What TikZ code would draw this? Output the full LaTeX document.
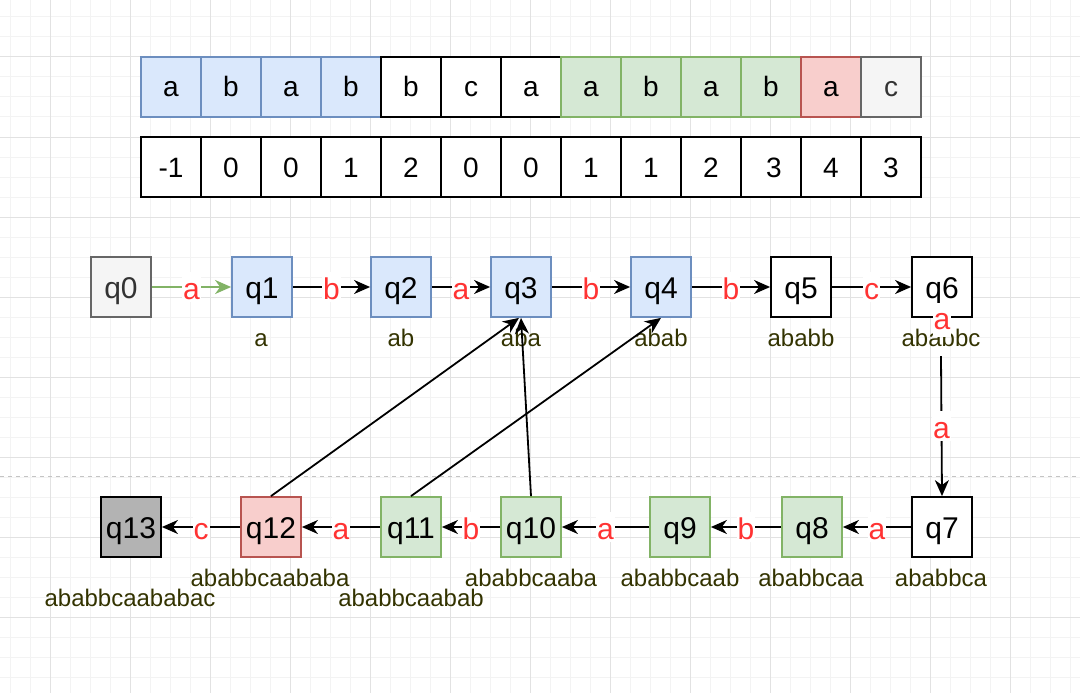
\documentclass[tikz,border=0pt]{standalone}
\usepackage{fontspec}
\setmainfont{Liberation Sans}
\usetikzlibrary{arrows.meta}
\definecolor{bfill}{HTML}{DAE8FC}\definecolor{bline}{HTML}{6C8EBF}
\definecolor{gfill}{HTML}{D5E8D4}\definecolor{gline}{HTML}{82B366}
\definecolor{rfill}{HTML}{F8CECC}\definecolor{rline}{HTML}{B85450}
\definecolor{nfill}{HTML}{F5F5F5}\definecolor{nline}{HTML}{666666}
\definecolor{dfill}{HTML}{B3B3B3}
\definecolor{elred}{HTML}{FF3333}
\definecolor{subc}{HTML}{333300}
\definecolor{minorg}{HTML}{F3F3F3}
\definecolor{majorg}{HTML}{E2E2E2}
\definecolor{dashg}{HTML}{C4C4C4}
\tikzset{
  cell/.style={draw=black, fill=white, line width=1.8pt, minimum width=60pt, minimum height=60pt, inner sep=0pt, text height=20pt, text depth=0pt, font=\fontsize{28}{30}\selectfont},
  bluec/.style={fill=bfill, draw=bline},
  greenc/.style={fill=gfill, draw=gline},
  redc/.style={fill=rfill, draw=rline},
  greyc/.style={fill=nfill, draw=nline, text=black!80},
  state/.style={draw=black, fill=white, line width=1.8pt, minimum width=60pt, minimum height=60pt, inner sep=0pt, text height=22pt, text depth=0pt, font=\fontsize{30}{32}\selectfont},
  darkc/.style={fill=dfill, draw=black},
  edge/.style={line width=1.8pt, draw=black, -{Stealth[length=16pt,width=14pt,inset=5pt]}},
  gedge/.style={line width=1.8pt, draw=gline, -{Stealth[length=16pt,width=14pt,inset=5pt]}},
  elab/.style={fill=white, text=elred, inner sep=1pt, text height=26pt, text depth=2pt, font=\fontsize{30}{32}\selectfont},
  strayl/.style={fill=white, text=elred, inner sep=1pt, text height=25pt, text depth=7pt, font=\fontsize{30}{32}\selectfont},
  sublab/.style={text=subc, inner sep=1pt, text height=17pt, text depth=0pt, font=\fontsize{24}{26}\selectfont},
  minorline/.style={draw=minorg, line width=1pt},
  majorline/.style={draw=majorg, line width=1pt},
  sepline/.style={draw=dashg, line width=1pt, dash pattern=on 4pt off 4pt}
}
\begin{document}
\begin{tikzpicture}[x=1pt,y=-1pt]
\useasboundingbox (0,0) rectangle (1080,693);
\fill[white] (0,0) rectangle (1080,693);
% grid
\foreach \x in {10,30,...,1070} \draw[minorline] (\x,0) -- (\x,693);
\foreach \y in {17,37,...,677} \draw[minorline] (0,\y) -- (1080,\y);
\foreach \x in {50,130,...,1010} \draw[majorline] (\x,0) -- (\x,693);
\foreach \y in {57,137,...,617} \draw[majorline] (0,\y) -- (1080,\y);
\coordinate (sepL) at (0,476);
\coordinate (sepR) at (1080,476);
\draw[sepline] (sepL) -- (sepR);
% text array
\node[cell,bluec] (t0) at (171,87) {a};
\node[cell,bluec] (t1) at (231,87) {b};
\node[cell,bluec] (t2) at (291,87) {a};
\node[cell,bluec] (t3) at (351,87) {b};
\node[cell] (t4) at (411,87) {b};
\node[cell] (t5) at (471,87) {c};
\node[cell] (t6) at (531,87) {a};
\node[cell,greenc] (t7) at (591,87) {a};
\node[cell,greenc] (t8) at (651,87) {b};
\node[cell,greenc] (t9) at (711,87) {a};
\node[cell,greenc] (t10) at (771,87) {b};
\node[cell,redc] (t11) at (831,87) {a};
\node[cell,greyc] (t12) at (891,87) {c};
% next array
\node[cell] (n0) at (171,167) {-1};
\node[cell] (n1) at (231,167) {0};
\node[cell] (n2) at (291,167) {0};
\node[cell] (n3) at (351,167) {1};
\node[cell] (n4) at (411,167) {2};
\node[cell] (n5) at (471,167) {0};
\node[cell] (n6) at (531,167) {0};
\node[cell] (n7) at (591,167) {1};
\node[cell] (n8) at (651,167) {1};
\node[cell] (n9) at (711,167) {2};
\node[cell] (n10) at (771,167) {\hspace{6pt}3};
\node[cell] (n11) at (831,167) {4};
\node[cell] (n12) at (891,167) {3};
% states top row
\node[state,greyc] (q0) at (121,287) {q0};
\node[state,bluec] (q1) at (262,287) {q1};
\node[state,bluec] (q2) at (401,287) {q2};
\node[state,bluec] (q3) at (521,287) {q3};
\node[state,bluec] (q4) at (661,287) {q4};
\node[state] (q5) at (801,287) {q5};
\node[state] (q6) at (942,287) {q6};
% states bottom row
\node[state] (q7) at (942,527) {q7};
\node[state,greenc] (q8) at (812,527) {q8};
\node[state,greenc] (q9) at (680,527) {q9};
\node[state,greenc] (q10) at (531,527) {q10};
\node[state,greenc] (q11) at (411,527) {q11};
\node[state,redc] (q12) at (271,527) {q12};
\node[state,darkc] (q13) at (131,527) {q13};
% sublabels
\node[sublab] (l1) at (261,337.5) {a};
\node[sublab] (l2) at (401,337.5) {ab};
\node[sublab] (l3) at (521,337.5) {aba};
\node[sublab] (l4) at (661,337.5) {abab};
\node[sublab] (l5) at (801,337.5) {ababb};
\node[sublab, inner ysep=10pt] (l6) at (941,337.5) {ababbc};
\node[sublab] (l7) at (941,577.5) {ababbca};
\node[sublab] (l8) at (811,577.5) {ababbcaa};
\node[sublab] (l9) at (680,577.5) {ababbcaab};
\node[sublab] (l10) at (531,577.5) {ababbcaaba};
\node[sublab] (l11) at (411,598) {ababbcaabab};
\node[sublab] (l12) at (270,577.5) {ababbcaababa};
\node[sublab] (l13) at (130,598) {ababbcaababac};
% forward edges
\draw[gedge] (q0) -- node[elab]{a} (q1);
\draw[edge] (q1) -- node[elab]{b} (q2);
\draw[edge] (q2) -- node[elab]{a} (q3);
\draw[edge] (q3) -- node[elab]{b} (q4);
\draw[edge] (q4) -- node[elab]{b} (q5);
\draw[edge] (q5) -- node[elab]{c} (q6);
\draw[edge] (l6.south) -- node[elab]{a} (q7.north);
\draw[edge] (q7) -- node[elab]{a} (q8);
\draw[edge] (q8) -- node[elab]{b} (q9);
\draw[edge] (q9) -- node[elab]{a} (q10);
\draw[edge] (q10) -- node[elab]{b} (q11);
\draw[edge] (q11) -- node[elab]{a} (q12);
\draw[edge] (q12) -- node[elab]{c} (q13);
% failure links
\draw[edge] (q12.north) -- ([xshift=-2pt]q3.south);
\draw[edge] (q11.north) -- (q4.south);
\draw[edge] (q10.north) -- (q3.south);
% stray label on q6
\node[strayl] (sa) at (942,320) {a};
\end{tikzpicture}
\end{document}
